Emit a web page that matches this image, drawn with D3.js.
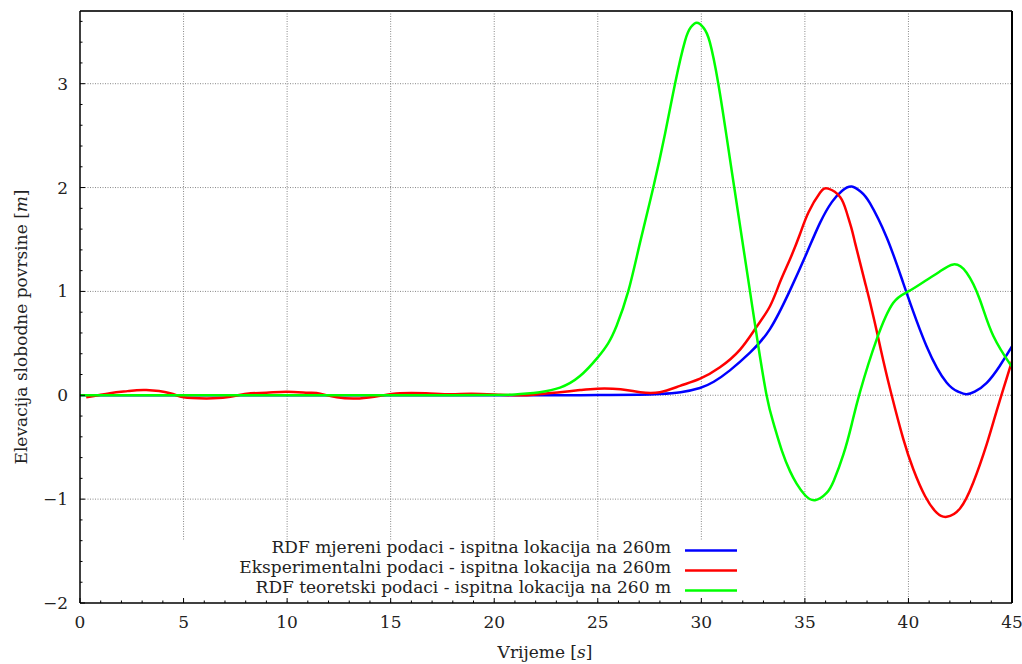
<!DOCTYPE html>
<html>
<head>
<meta charset="utf-8">
<script src="https://cdn.jsdelivr.net/npm/d3@7"></script>
<style>
  html, body { margin: 0; padding: 0; background: #fff; }
  svg { display: block; }
  text { font-family: "DejaVu Serif", serif; fill: #222; }
</style>
</head>
<body>
<svg id="chart" width="1022" height="664"></svg>
<script>
// ---- Data ----
const xTicks = [0, 5, 10, 15, 20, 25, 30, 35, 40, 45];
const yTicks = [-2, -1, 0, 1, 2, 3];

const seriesNames = [
  "RDF mjereni podaci - ispitna lokacija na 260m",
  "Eksperimentalni podaci - ispitna lokacija na 260m",
  "RDF teoretski podaci - ispitna lokacija na 260 m"
];
const seriesColors = ["#0000ff", "#ff0000", "#00ff00"];

const blueT = [0, 5, 10, 15, 20, 23, 25, 27, 28, 29, 29.93, 30.6, 31.38, 32.35, 33.32, 34.28, 35.09, 35.73, 36.3, 36.8, 37.26, 37.7, 38.14, 38.95, 39.75, 40.88, 41.85, 42.4, 42.78, 43.2, 43.78, 44.4, 45];
const blueV = [0, 0, 0, 0, 0, 0, 0.002, 0.006, 0.013, 0.03, 0.07, 0.13, 0.24, 0.41, 0.64, 1.01, 1.37, 1.66, 1.86, 1.97, 2.01, 1.96, 1.85, 1.52, 1.08, 0.47, 0.12, 0.035, 0.01, 0.035, 0.12, 0.28, 0.47];

const redT = [0.3, 1.45, 2.3, 3.2, 4.35, 5.0, 6.1, 7.08, 8.05, 9.0, 9.98, 11.0, 11.6, 12.4, 13.5, 14.5, 15.45, 16.7, 17.9, 18.9, 20.3, 21.57, 22.4, 23.18, 24.14, 24.98, 26.1, 27.05, 28.0, 28.97, 29.94, 30.9, 31.87, 32.67, 33.32, 33.8, 34.28, 34.76, 35.17, 35.73, 36.13, 36.7, 37.02, 37.26, 37.42, 37.66, 37.9, 38.14, 38.5, 38.79, 39.19, 39.75, 40.23, 40.8, 41.36, 41.85, 42.49, 43.13, 43.78, 44.26, 44.94, 45];
const redV = [-0.02, 0.02, 0.04, 0.05, 0.02, -0.02, -0.03, -0.02, 0.015, 0.025, 0.035, 0.025, 0.015, -0.02, -0.03, -0.005, 0.02, 0.02, 0.01, 0.015, 0.005, 0.0, 0.015, 0.03, 0.05, 0.064, 0.058, 0.03, 0.03, 0.09, 0.16, 0.27, 0.44, 0.66, 0.86, 1.09, 1.31, 1.55, 1.76, 1.95, 1.99, 1.91, 1.76, 1.60, 1.47, 1.28, 1.09, 0.90, 0.59, 0.33, 0.0, -0.42, -0.71, -0.97, -1.13, -1.17, -1.09, -0.84, -0.47, -0.15, 0.29, 0.33];

const greenT = [0, 5, 10, 15, 18, 20, 21, 21.57, 22.2, 23.18, 24.14, 24.98, 25.5, 25.91, 26.47, 27.04, 27.68, 28.25, 28.73, 29.21, 29.5, 29.78, 30.1, 30.41, 30.82, 31.22, 31.59, 31.97, 32.35, 32.7, 33.15, 33.5, 33.9, 34.28, 34.6, 35.0, 35.49, 36.05, 36.4, 36.86, 37.26, 37.66, 38.47, 39.27, 40.0, 40.88, 41.5, 42.17, 42.81, 43.45, 44.1, 44.94, 45];
const greenV = [0, 0, 0, 0, 0, 0.003, 0.008, 0.016, 0.03, 0.074, 0.185, 0.36, 0.5, 0.67, 1.0, 1.47, 2.0, 2.52, 3.0, 3.41, 3.545, 3.586, 3.54, 3.4, 3.0, 2.49, 2.0, 1.5, 1.0, 0.54, 0.0, -0.28, -0.54, -0.73, -0.85, -0.96, -1.01, -0.94, -0.82, -0.57, -0.28, 0.03, 0.54, 0.89, 1.0, 1.11, 1.19, 1.26, 1.18, 0.92, 0.57, 0.29, 0.27];

const seriesT = [blueT, redT, greenT];
const seriesV = [blueV, redV, greenV];

// ---- Layout ----
const svg = d3.select("#chart");
const L = 80, R = 1012, T = 11, B = 603;
const x = d3.scaleLinear().domain([0, 45]).range([L, R]);
const y = d3.scaleLinear().domain([-2, 3.7]).range([B, T]);

// grid
const grid = svg.append("g");
xTicks.filter(d => d > 0 && d < 45).forEach(d => {
  grid.append("line").attr("x1", x(d)).attr("x2", x(d)).attr("y1", T).attr("y2", B)
    .attr("stroke", "#888").attr("stroke-width", 1).attr("stroke-dasharray", "1,1.5");
});
yTicks.filter(d => d > -2).forEach(d => {
  grid.append("line").attr("x1", L).attr("x2", R).attr("y1", y(d)).attr("y2", y(d))
    .attr("stroke", "#888").attr("stroke-width", 1).attr("stroke-dasharray", "1,1.5");
});

// legend background (hides grid under the key)
svg.append("rect").attr("x", 170).attr("y", 540).attr("width", 575).attr("height", 61).attr("fill", "#fff");

// clip
svg.append("defs").append("clipPath").attr("id", "clip")
  .append("rect").attr("x", L).attr("y", T).attr("width", R - L).attr("height", B - T);

const line = d3.line().x(d => x(d[0])).y(d => y(d[1])).curve(d3.curveNatural);
const lines = svg.append("g").attr("clip-path", "url(#clip)");
seriesT.forEach((ts, i) => {
  const pts = ts.map((t, j) => [t, seriesV[i][j]]);
  lines.append("path").datum(pts).attr("d", line)
    .attr("fill", "none").attr("stroke", seriesColors[i]).attr("stroke-width", 2.5)
    .attr("stroke-linejoin", "round");
});

// axes with inward ticks
const xMinor = d3.range(0, 46, 1);
const yMinor = d3.range(-2, 3.71, 0.2);
const ax = svg.append("g");
xMinor.forEach(d => {
  const major = d % 5 === 0;
  ax.append("line").attr("x1", x(d)).attr("x2", x(d)).attr("y1", B).attr("y2", B - (major ? 5 : 2.5))
    .attr("stroke", "#000").attr("stroke-width", 1);
});
yMinor.forEach(d => {
  const r = Math.round(d * 10) / 10;
  const major = Math.abs(r - Math.round(r)) < 1e-6;
  ax.append("line").attr("x1", L).attr("x2", L + (major ? 5 : 2.5)).attr("y1", y(r)).attr("y2", y(r))
    .attr("stroke", "#000").attr("stroke-width", 1);
});

// frame
svg.append("line").attr("x1", L).attr("x2", R).attr("y1", T).attr("y2", T).attr("stroke", "#333").attr("stroke-width", 2);
svg.append("line").attr("x1", L).attr("x2", L).attr("y1", T).attr("y2", B).attr("stroke", "#000").attr("stroke-width", 1.5);
svg.append("line").attr("x1", L).attr("x2", R).attr("y1", B).attr("y2", B).attr("stroke", "#000").attr("stroke-width", 1.5);
svg.append("line").attr("x1", R).attr("x2", R).attr("y1", T).attr("y2", B).attr("stroke", "#000").attr("stroke-width", 2);

// tick labels
xTicks.forEach(d => {
  svg.append("text").attr("x", x(d)).attr("y", 628).attr("text-anchor", "middle")
    .attr("font-size", 17).text(d);
});
yTicks.forEach(d => {
  svg.append("text").attr("x", 68).attr("y", y(d) + 6).attr("text-anchor", "end")
    .attr("font-size", 17).text(d === -2 ? "\u22122" : d === -1 ? "\u22121" : d);
});

// axis titles
const xl = svg.append("text").attr("x", 545).attr("y", 658).attr("text-anchor", "middle").attr("font-size", 17);
xl.append("tspan").text("Vrijeme [");
xl.append("tspan").attr("font-style", "italic").text("s");
xl.append("tspan").text("]");

const yl = svg.append("text").attr("transform", "translate(27,327) rotate(-90)")
  .attr("text-anchor", "middle").attr("font-size", 17);
yl.append("tspan").text("Elevacija slobodne povrsine [");
yl.append("tspan").attr("font-style", "italic").text("m");
yl.append("tspan").text("]");

// legend
seriesNames.forEach((name, i) => {
  const ly = 550 + i * 20;
  svg.append("text").attr("x", 671).attr("y", ly + 3).attr("text-anchor", "end")
    .attr("font-size", 17).text(name);
  svg.append("line").attr("x1", 685).attr("x2", 737).attr("y1", ly + 0.5).attr("y2", ly + 0.5)
    .attr("stroke", seriesColors[i]).attr("stroke-width", 2.5);
});
</script>
</body>
</html>
